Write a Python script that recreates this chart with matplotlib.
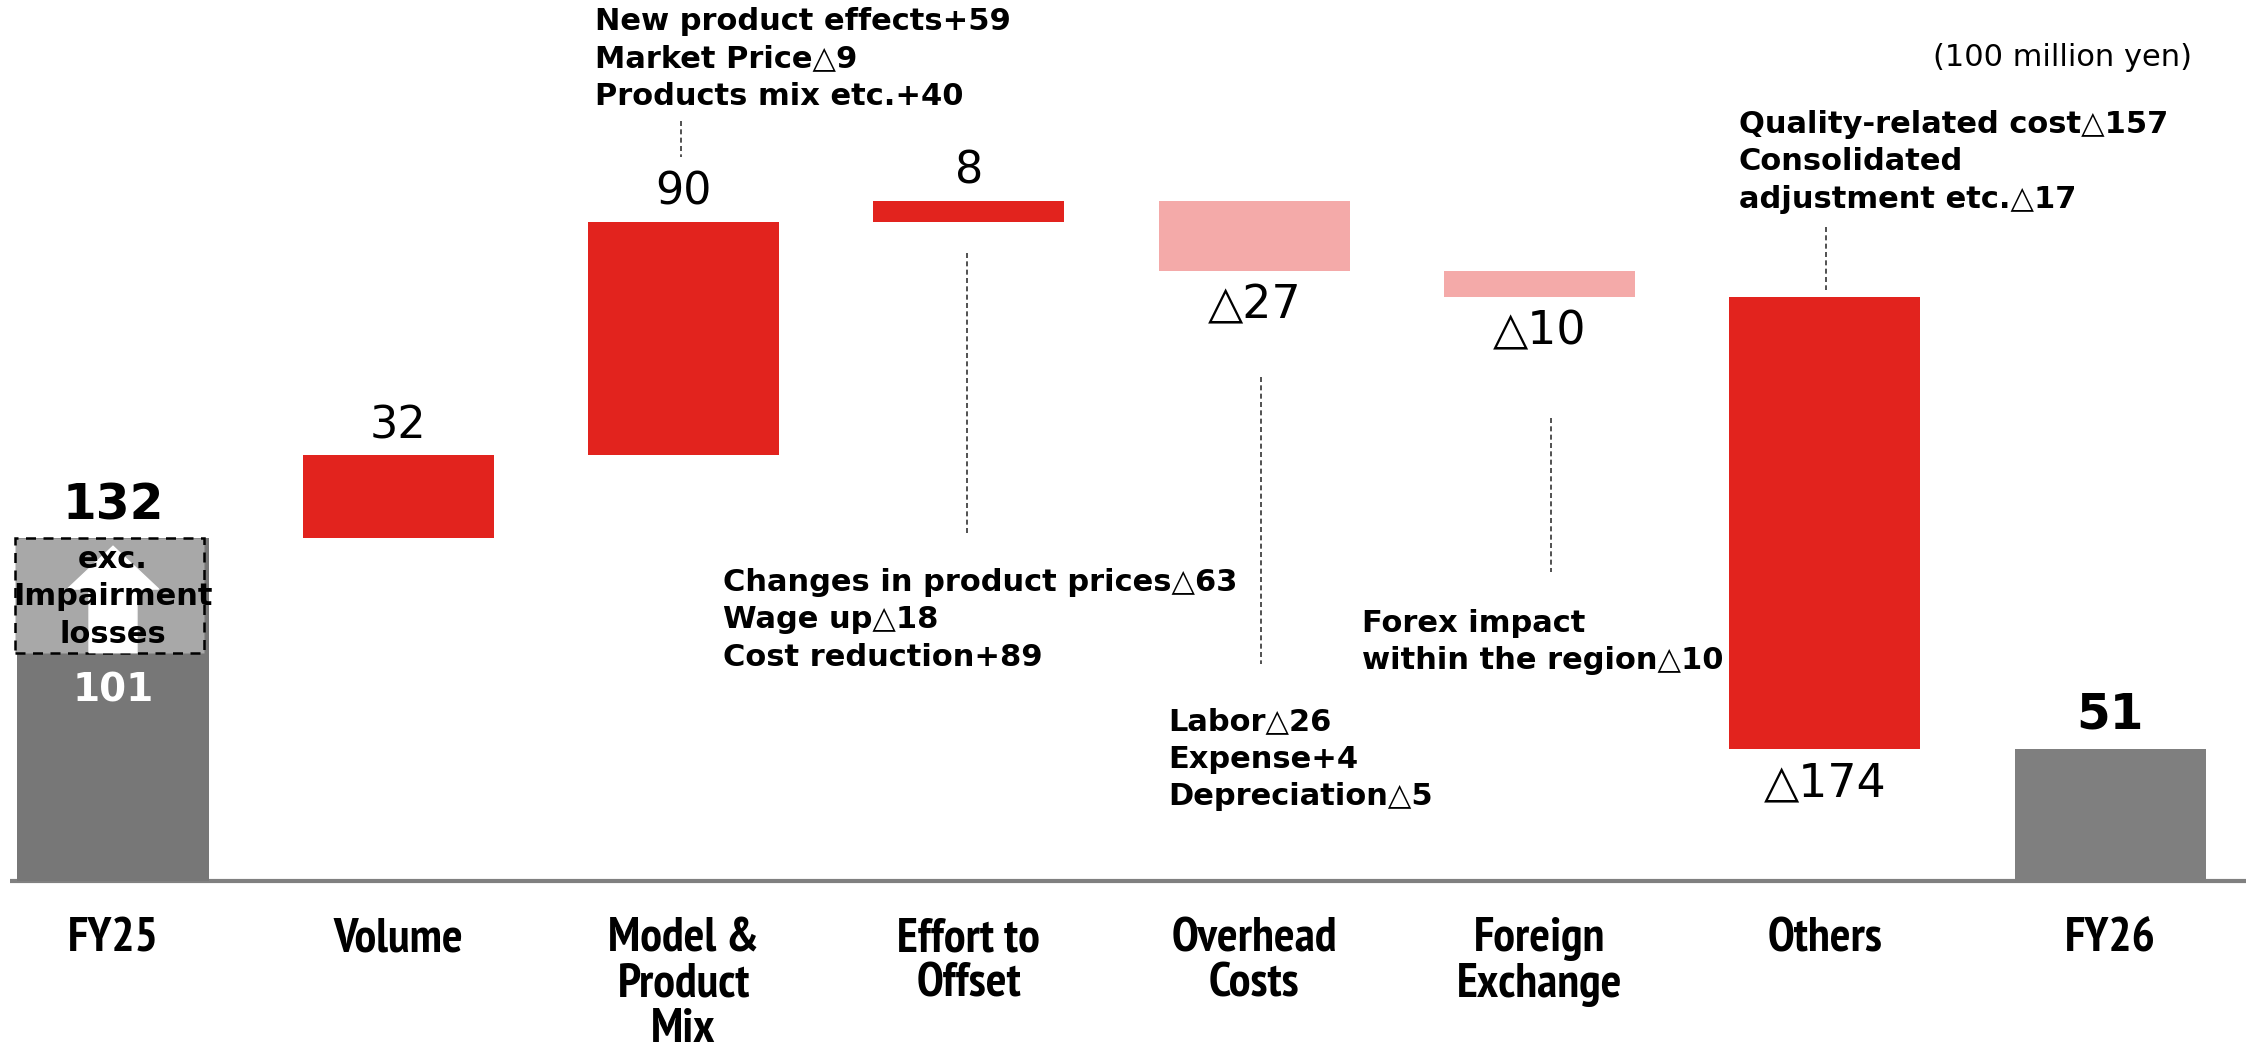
import matplotlib.pyplot as plt
from matplotlib import font_manager
from matplotlib.patches import Rectangle

# Data (100 million yen)
categories = ['FY25', 'Volume', 'Model &\nProduct\nMix', 'Effort to\nOffset',
              'Overhead\nCosts', 'Foreign\nExchange', 'Others', 'FY26']
start_value = 132
fy25_base_label = 101
fy25_base_drawn = 88        # drawn height of the dark part
deltas = [32, 90, 8, -27, -10, -174]
end_value = 51

notes = [
    'New product effects+59\nMarket Price△9\nProducts mix etc.+40',
    'Changes in product prices△63\nWage up△18\nCost reduction+89',
    'Labor△26\nExpense+4\nDepreciation△5',
    'Forex impact\nwithin the region△10',
    'Quality-related cost△157\nConsolidated\nadjustment etc.△17',
]

RED = '#e2231e'
PINK = '#f4aaa9'
delta_colors = [RED, RED, RED, PINK, PINK, RED]

W, H = 2254, 1047
fig = plt.figure(figsize=(W / 100, H / 100), dpi=100)
ax = fig.add_axes([0, 0, 1, 1])

# pixel -> data mapping
x0_px, dx_px = 113, 285.3
y0_px, dy_px = 881, 2.595
ax.set_xlim((0 - x0_px) / dx_px, (W - x0_px) / dx_px)
ax.set_ylim((y0_px - H) / dy_px, y0_px / dy_px)
ax.axis('off')

def fx(px):
    return px / W

def fy(py):
    return 1 - py / H

# look for a narrow bold face for the category labels
narrow_path = None
for f in font_manager.fontManager.ttflist:
    p = f.fname.lower()
    if ('narrow' in p or 'condensed' in p) and 'bold' in p and 'oblique' not in p and 'italic' not in p:
        narrow_path = f.fname
        if 'narrow' in p:
            break
if narrow_path:
    cat_font = font_manager.FontProperties(fname=narrow_path, size=35)
else:
    cat_font = font_manager.FontProperties(family='DejaVu Sans', weight='bold', size=26)

bw = 0.67
# FY25 bar
ax.bar(0, start_value, width=bw, color='#777777', zorder=2)
ax.add_patch(Rectangle((-0.345, fy25_base_drawn), 0.665, start_value - fy25_base_drawn,
                       facecolor='#a8a8a8', edgecolor='black', linestyle=(0, (4, 3)),
                       linewidth=1.8, zorder=3))
ax.arrow(0, fy25_base_drawn, 0, start_value - 3 - fy25_base_drawn, width=0.168,
         head_width=0.32, head_length=16.5, length_includes_head=True,
         color='white', zorder=4)
ax.text(0, (fy25_base_drawn + start_value) / 2 - 0.5, 'exc.\nImpairment\nlosses',
        ha='center', va='center', fontsize=22, fontweight='bold', linespacing=1.38, zorder=5)
ax.text(0, fy25_base_drawn - 14.5, str(fy25_base_label), ha='center', va='center',
        fontsize=28, fontweight='bold', color='white', zorder=5)
ax.text(0, start_value + 12.7, str(start_value), ha='center', va='center',
        fontsize=35, fontweight='bold')

# change bars
level = start_value
for i, d in enumerate(deltas):
    pos = i + 1
    bottom = level if d > 0 else level + d
    ax.bar(pos, abs(d), bottom=bottom, width=bw, color=delta_colors[i], zorder=2)
    if d > 0:
        ax.text(pos, level + d + 11.5, str(d), ha='center', va='center', fontsize=32)
    else:
        ax.text(pos, level + d - 13.5, '△' + str(-d), ha='center', va='center', fontsize=33)
    level += d

# FY26 bar
ax.bar(7, end_value, width=bw, color='#7f7f7f', zorder=2)
ax.text(7, end_value + 13, str(end_value), ha='center', va='center',
        fontsize=35, fontweight='bold')

# axis line
ax.plot([(10 - x0_px) / dx_px, (2246 - x0_px) / dx_px], [0, 0], color='#808080',
        linewidth=3, zorder=1, solid_capstyle='butt')

# category labels
for i, c in enumerate(categories):
    ax.text(i, -(917 - y0_px) / dy_px, c, ha='center', va='top',
            fontproperties=cat_font, linespacing=1.05)

# notes
note_kw = dict(fontsize=22, fontweight='bold', ha='left', va='center', linespacing=1.38)
fig.text(fx(595), fy(59), notes[0], **note_kw)
fig.text(fx(723), fy(620), notes[1], **note_kw)
fig.text(fx(1168), fy(759), notes[2], **note_kw)
fig.text(fx(1362), fy(642), notes[3], **note_kw)
fig.text(fx(1739), fy(162), notes[4], **note_kw)

# dashed leader lines (pixel coords)
leaders = [(681, 121, 157), (967, 253, 536), (1261, 377, 664), (1551, 418, 572), (1826, 227, 290)]
for lx, ly1, ly2 in leaders:
    ax.plot([(lx - x0_px) / dx_px] * 2, [(y0_px - ly1) / dy_px, (y0_px - ly2) / dy_px],
            color='#333333', linewidth=1.2, linestyle=(0, (3, 2)))

fig.text(fx(2192), fy(57), '(100 million yen)', ha='right', va='center', fontsize=22)

fig.savefig('out.png', dpi=100)
